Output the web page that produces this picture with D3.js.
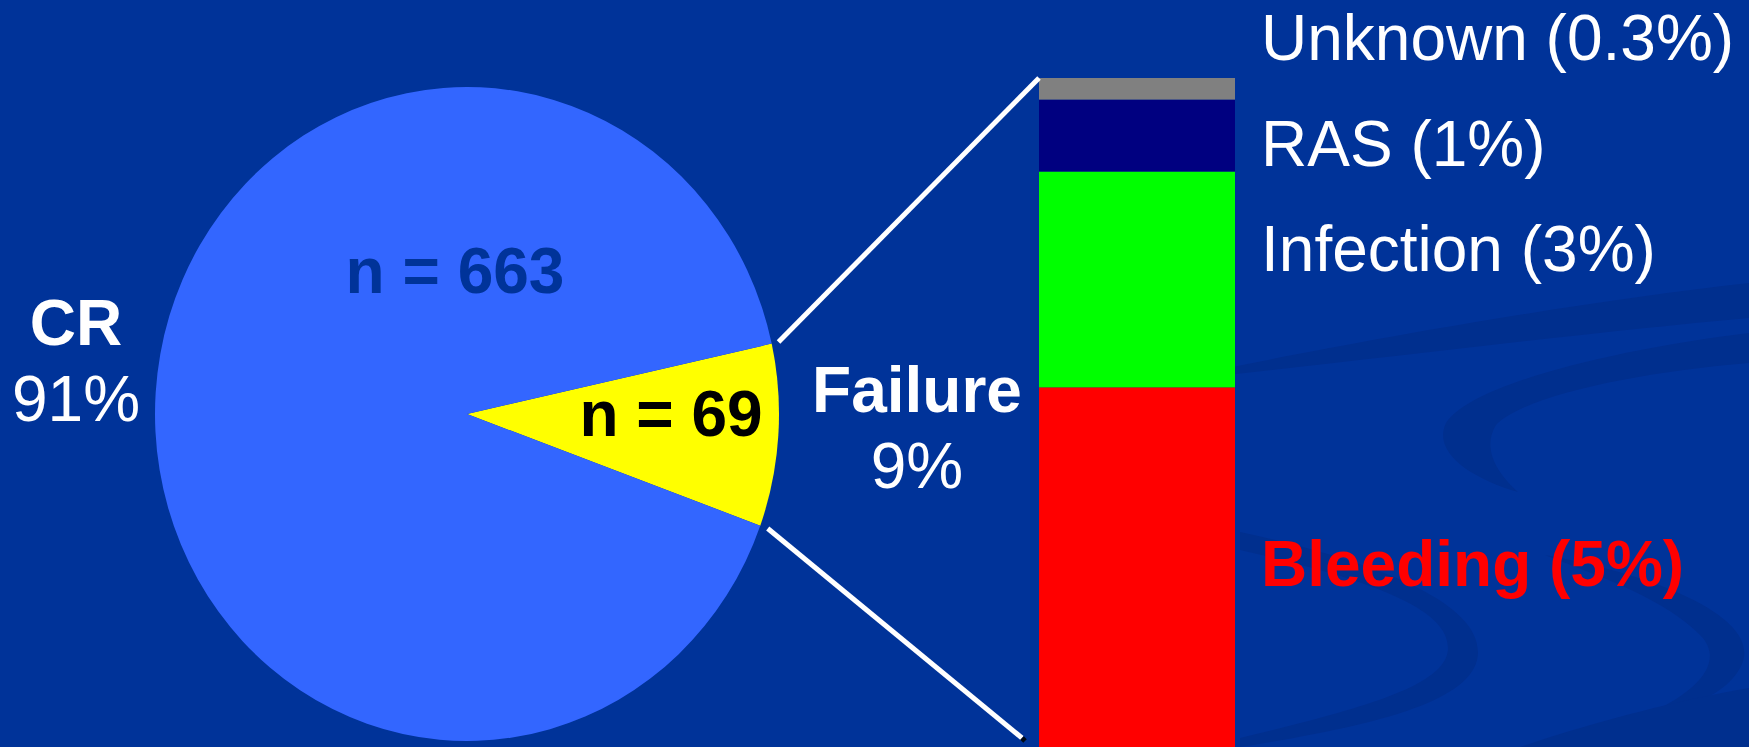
<!DOCTYPE html>
<html>
<head>
<meta charset="utf-8">
<script src="https://cdn.jsdelivr.net/npm/d3@7"></script>
<style>
  html, body { margin: 0; padding: 0; background: #003399; overflow: hidden; }
  svg { display: block; }
  text { font-family: "Liberation Sans", Arial, sans-serif; }
</style>
</head>
<body>
<script>
// Outcome of induction: complete remission vs. failure, and causes of failure
const outcomeLabels   = ["Failure", "CR"];
const outcomePercents = [9, 91];
const outcomeCounts   = [69, 663];

const causeLabels   = ["Bleeding", "Infection", "RAS", "Unknown"];
const causePercents = [5, 3, 1, 0.3];

const W = 1749, H = 747;

const svg = d3.select("body").append("svg")
  .attr("width", W).attr("height", H);

// ---- slide background with soft darker swooshes ----
svg.append("rect").attr("width", W).attr("height", H).attr("fill", "#003399");
const swoosh = svg.append("g").attr("fill", "#002f8e");
[
  "M1160,382 C1300,352 1550,305 1749,283 L1749,318 C1560,335 1330,365 1160,382 Z",
  "M1749,333 C1610,350 1470,385 1446,423 C1432,452 1470,478 1518,492 C1496,472 1482,448 1496,425 C1525,395 1640,372 1749,363 Z",
  "M1240,532 C1370,560 1478,600 1478,652 C1478,700 1380,725 1240,747 L1240,738 C1365,708 1448,685 1448,648 C1448,608 1370,580 1240,550 Z",
  "M1545,555 C1680,580 1765,625 1740,668 C1725,695 1690,708 1652,712 C1700,690 1725,660 1700,635 C1665,600 1610,580 1545,555 Z",
  "M1520,747 C1600,720 1680,700 1749,688 L1749,747 Z"
].forEach(d => swoosh.append("path").attr("d", d));

// ---- pie: CR vs failure (slightly taller than wide) ----
const cx = 467, cy = 414, r = 312, yStretch = 1.048;
const pieData = outcomeLabels.map((k, i) => ({ key: k, pct: outcomePercents[i], n: outcomeCounts[i] }));
const startA = 77.57 * Math.PI / 180;
const arcs = d3.pie().sort(null).value(d => d.pct)
  .startAngle(startA).endAngle(startA + 2 * Math.PI)(pieData);
const arc = d3.arc().innerRadius(0).outerRadius(r);
const pieColor = d3.scaleOrdinal().domain(outcomeLabels).range(["#ffff00", "#3366ff"]);

const pieG = svg.append("g")
  .attr("transform", `translate(${cx},${cy}) scale(1,${yStretch})`);
pieG.selectAll("path").data(arcs).join("path")
  .attr("d", arc)
  .attr("fill", d => pieColor(d.data.key));

// count labels inside the slices
const countPos = { CR: [-12, -121], Failure: [204, 22] };
const countColor = { CR: "#003399", Failure: "#000000" };
svg.selectAll("text.count").data(arcs).join("text")
  .attr("class", "count")
  .attr("x", d => cx + countPos[d.data.key][0])
  .attr("y", d => cy + countPos[d.data.key][1])
  .attr("text-anchor", "middle")
  .attr("font-size", 64).attr("font-weight", "bold")
  .attr("fill", d => countColor[d.data.key])
  .text(d => `n = ${d.data.n}`);

// outcome captions
function caption(x, y, name, pct) {
  const t = svg.append("g").attr("fill", "#ffffff").attr("text-anchor", "middle");
  t.append("text").attr("x", x).attr("y", y).attr("font-size", 64)
    .attr("font-weight", "bold").text(name);
  t.append("text").attr("x", x).attr("y", y + 76).attr("font-size", 64)
    .text(`${pct}%`);
}
caption(76, 345, outcomeLabels[1], outcomePercents[1]);
caption(917, 412, outcomeLabels[0], outcomePercents[0]);

// ---- stacked bar: causes of failure ----
const barX = 1039, barW = 196, barTop = 78;
const total = d3.sum(causePercents);
const y = d3.scaleLinear().domain([0, total]).range([H, barTop]);
const cum = d3.cumsum(causePercents);
const segs = causeLabels.map((k, i) => ({ key: k, v: causePercents[i], y0: cum[i] - causePercents[i], y1: cum[i] }));
const causeColor = d3.scaleOrdinal().domain(causeLabels)
  .range(["#ff0000", "#00ff00", "#000080", "#808080"]);

svg.append("g").selectAll("rect").data(segs).join("rect")
  .attr("x", barX).attr("width", barW)
  .attr("y", d => y(d.y1))
  .attr("height", d => y(d.y0) - y(d.y1))
  .attr("fill", d => causeColor(d.key));

// connector lines from the failure slice edges to the bar
const failArc = arcs.find(a => a.data.key === "Failure");
function edgePoint(angle, pad) {
  return [cx + (r + pad) * Math.sin(angle), cy - (r + pad) * Math.cos(angle) * yStretch];
}
const pUp = edgePoint(failArc.startAngle, 7);
const pDn = edgePoint(failArc.endAngle, 8);
const conn = svg.append("g").attr("stroke", "#ffffff").attr("stroke-width", 5);
conn.append("line")
  .attr("x1", pUp[0]).attr("y1", pUp[1])
  .attr("x2", barX).attr("y2", y(total));
conn.append("line")
  .attr("x1", pDn[0]).attr("y1", pDn[1])
  .attr("x2", barX - 17).attr("y2", y(0) - 9);
svg.append("line")
  .attr("x1", barX - 17).attr("y1", y(0) - 9)
  .attr("x2", barX - 14).attr("y2", y(0) - 6)
  .attr("stroke", "#000814").attr("stroke-width", 5);

// cause labels to the right of the bar
const labelBase = { Unknown: 60, RAS: 166, Infection: 271, Bleeding: 586 };
svg.append("g").selectAll("text").data(segs).join("text")
  .attr("x", barX + barW + 26)
  .attr("y", d => labelBase[d.key])
  .attr("font-size", 64)
  .attr("font-weight", d => d.key === "Bleeding" ? "bold" : "normal")
  .attr("fill", d => d.key === "Bleeding" ? "#ff0000" : "#ffffff")
  .text(d => `${d.key} (${d.v}%)`);
</script>
</body>
</html>
